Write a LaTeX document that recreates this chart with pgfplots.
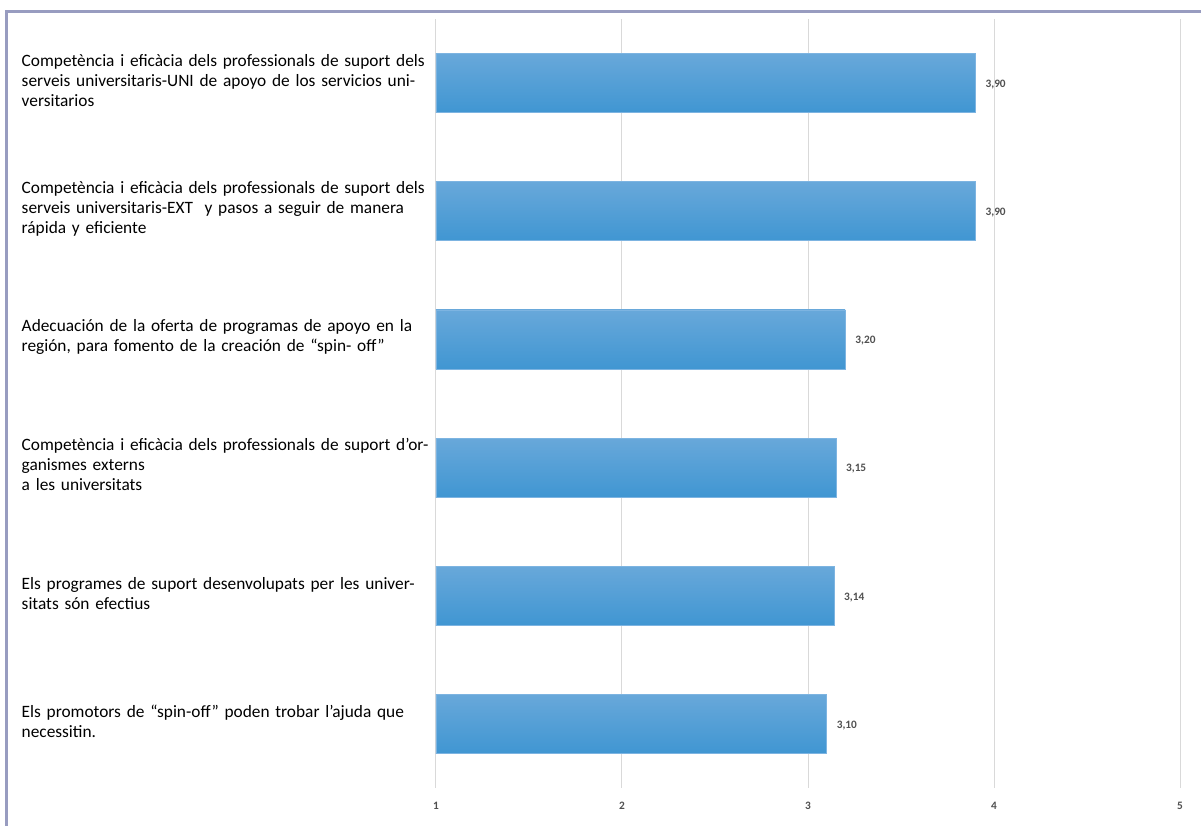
\documentclass[border=0pt]{standalone}
\usepackage{fontspec}
\setmainfont{Carlito}
\usepackage{pgfplots}
\pgfplotsset{compat=1.18}
\definecolor{framec}{RGB}{152,156,192}
\definecolor{gridc}{RGB}{217,217,217}
\definecolor{bartop}{RGB}{104,168,218}
\definecolor{barbot}{RGB}{64,150,210}
\definecolor{baredge}{RGB}{125,180,225}
\definecolor{numc}{RGB}{80,80,80}
\newlength\labw \setlength\labw{303.75pt}
\newcommand\J[1]{\makebox[\labw][s]{#1}}
\begin{document}
\begin{tikzpicture}
\useasboundingbox (-327pt,-27.75pt) rectangle (573.75pt,591pt);
\draw[framec, line width=2.25pt] (-321.75pt,-40pt) -- (-321.75pt,582pt) -- (600pt,582pt);
\begin{axis}[at={(0,0)}, anchor=south west, scale only axis,
  width=558pt, height=576.75pt,
  xmin=1, xmax=5, ymin=-0.5, ymax=5.5, y dir=reverse,
  xbar, bar width=44.25pt, bar shift=0pt,
  axis line style={draw=none}, major tick length=0pt,
  xmajorgrids, grid style={gridc, line width=0.75pt},
  xtick={1,2,3,4,5},
  /pgf/number format/assume math mode=true,
  xticklabel style={font=\fontsize{8.5}{10}\selectfont\bfseries, text=numc, yshift=-7pt},
  ytick={0,1,2,3,4,5},
  yticklabels={
    {\J{Competència i eficàcia dels professionals de suport dels}\\\J{serveis universitaris-UNI de apoyo de los servicios uni-}\\versitarios},
    {\J{Competència i eficàcia dels professionals de suport dels}\\\J{serveis universitaris-EXT\ \ y pasos a seguir de manera}\\rápida y eficiente},
    {\J{Adecuación de la oferta de programas de apoyo en la}\\región, para fomento de la creación de “spin- off”},
    {\J{Competència i eficàcia dels professionals de suport d’or-}\\ganismes externs\\a les universitats},
    {\J{Els programes de suport desenvolupats per les univer-}\\sitats són efectius},
    {\J{Els promotors de “spin-off” poden trobar l’ajuda que}\\necessitin.}
  },
  yticklabel style={font=\fontsize{13}{15}\selectfont, text width=\labw, align=left, inner sep=0pt, anchor=east, xshift=-6.75pt, yshift=2pt},
  nodes near coords={\pgfmathprintnumber[fixed, fixed zerofill, precision=2, use comma]{\pgfplotspointmeta}},
  point meta=x,
  nodes near coords style={font=\fontsize{8.5}{10}\selectfont\bfseries, text=numc, anchor=west, xshift=4pt, yshift=-1pt},
  barst/.style={top color=bartop, bottom color=barbot, draw=baredge, line width=0.6pt},
]
\addplot[barst] coordinates {(3.90,0)};
\addplot[barst] coordinates {(3.90,1)};
\addplot[barst] coordinates {(3.20,2)};
\addplot[barst] coordinates {(3.15,3)};
\addplot[barst] coordinates {(3.14,4)};
\addplot[barst] coordinates {(3.10,5)};
\end{axis}
\end{tikzpicture}
\end{document}
